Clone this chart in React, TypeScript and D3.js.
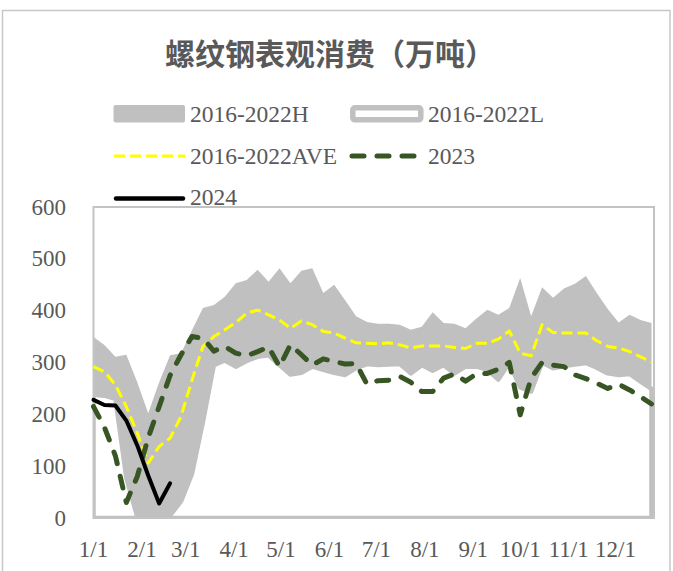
import React from "react";
import * as d3 from "d3";

const monthLabels = ["1/1", "2/1", "3/1", "4/1", "5/1", "6/1", "7/1", "8/1", "9/1", "10/1", "11/1", "12/1"];
const monthDays = [0, 31, 59, 90, 120, 151, 181, 212, 243, 273, 304, 334];
const yTicks = [0, 100, 200, 300, 400, 500, 600];

const seriesH = [349, 334, 311, 315, 262, 202, 262, 314, 318, 362, 405, 411, 427, 453, 459, 479, 456, 482, 453, 477, 482, 434, 450, 420, 389, 378, 375, 375, 373, 363, 369, 397, 376, 375, 366, 385, 402, 392, 405, 463, 389, 445, 425, 443, 452, 467, 434, 403, 377, 392, 382, 376];
const seriesL = [238, 236, 230, 78, 2, 0, 0, 5, 32, 85, 185, 295, 304, 292, 303, 311, 314, 295, 277, 280, 292, 286, 280, 276, 289, 297, 295, 296, 297, 279, 295, 284, 295, 279, 292, 292, 286, 267, 299, 252, 244, 300, 289, 293, 296, 299, 290, 279, 276, 278, 263, 249];
const seriesAve = [292, 282, 257, 215, 164, 106, 138, 154, 196, 266, 331, 350, 363, 377, 395, 401, 392, 382, 366, 380, 373, 360, 357, 347, 338, 337, 336, 338, 334, 328, 332, 332, 332, 329, 327, 337, 337, 345, 361, 318, 313, 373, 358, 357, 357, 357, 342, 331, 328, 321, 311, 301];
const series2023 = [215, 175, 120, 30, 80, 155, 215, 275, 315, 350, 347, 322, 331, 318, 313, 321, 330, 292, 334, 315, 295, 307, 302, 297, 298, 258, 265, 266, 273, 262, 244, 244, 270, 278, 264, 278, 279, 287, 300, 199, 270, 300, 295, 292, 276, 269, 260, 250, 258, 247, 234, 220];
const series2024 = [228, 218, 217, 188, 140, 82, 28, 67];

const legendNames = ["2016-2022H", "2016-2022L", "2016-2022AVE", "2023", "2024"];
const title = "螺纹钢表观消费（万吨）";

const W = 673;
const H = 571;
const plotL = 93.5;
const plotR = 654;
const plotT = 207;
const plotB = 518;

const serif = "'Times New Roman', 'Liberation Serif', 'DejaVu Serif', serif";
const textColor = "#595959";
const grayFill = "#C0C0C0";
const green = "#375623";

export default function App() {
  const x = d3.scaleLinear().domain([0, 357]).range([plotL, 651.5]);
  const y = d3.scaleLinear().domain([0, 600]).range([plotB, plotT]);
  const dayOf = (i: number) => i * 7;

  const areaGen = d3
    .area<number>()
    .x((_, i) => x(dayOf(i)))
    .y0(() => y(0))
    .y1((d) => y(d));
  const lineGen = d3
    .line<number>()
    .x((_, i) => x(dayOf(i)))
    .y((d) => y(d));

  return (
    <svg
      width={W}
      height={H}
      style={{ position: "absolute", left: 0, top: 0, background: "#fff" }}
      xmlns="http://www.w3.org/2000/svg"
    >
      <defs>
        <clipPath id="plotClip">
          <rect x={plotL} y={plotT} width={plotR - plotL} height={plotB - plotT} />
        </clipPath>
      </defs>
      <rect x={0} y={0} width={W} height={H} fill="#fff" />
      {/* outer chart border */}
      <rect x={2.5} y={10.5} width={667.5} height={620} fill="none" stroke="#C8C8C8" strokeWidth={1.5} />

      {/* title */}
      <text
        x={330}
        y={52}
        textAnchor="middle"
        dominantBaseline="central"
        fontFamily="'KaiTi', 'STKaiti', 'Noto Sans CJK SC', sans-serif"
        fontSize={30}
        fontWeight={700}
        fill={textColor}
      >
        {title}
      </text>

      {/* legend */}
      <g fontFamily={serif} fontSize={23.5} fill={textColor}>
        <rect x={113.5} y={105} width={71.5} height={17.5} rx={2} fill={grayFill} />
        <text x={190} y={122}>{legendNames[0]}</text>
        <rect x={352.8} y={107.8} width={68} height={12} rx={2} fill="#fff" stroke={grayFill} strokeWidth={5.5} />
        <text x={428} y={122}>{legendNames[1]}</text>
        <line x1={114} x2={185} y1={156} y2={156} stroke="#FFFF00" strokeWidth={3} strokeDasharray="11,5" />
        <text x={190} y={163.5}>{legendNames[2]}</text>
        <line x1={352} x2={416} y1={156} y2={156} stroke={green} strokeWidth={5} strokeDasharray="12,13" strokeLinecap="round" />
        <text x={428} y={163.5}>{legendNames[3]}</text>
        <line x1={116} x2={183} y1={198.5} y2={198.5} stroke="#000" strokeWidth={4.5} strokeLinecap="round" />
        <text x={190} y={205}>{legendNames[4]}</text>
      </g>

      {/* areas */}
      <g clipPath="url(#plotClip)">
        <path d={areaGen(seriesH) || ""} fill={grayFill} />
        <path d={areaGen(seriesL) || ""} fill="#fff" stroke={grayFill} strokeWidth={4.5} strokeLinejoin="round" />
      </g>

      {/* plot frame */}
      <rect x={plotL} y={plotT} width={plotR - plotL} height={plotB - plotT} fill="none" stroke="#C3C3C3" strokeWidth={2} />

      {/* lines */}
      <path d={lineGen(seriesAve) || ""} fill="none" stroke="#FFFF00" strokeWidth={3} strokeDasharray="11,5" strokeLinejoin="round" />
      <path d={lineGen(series2023) || ""} fill="none" stroke={green} strokeWidth={5} strokeDasharray="12,13" strokeLinecap="round" strokeLinejoin="round" />
      <path d={lineGen(series2024) || ""} fill="none" stroke="#000" strokeWidth={4} strokeLinecap="round" strokeLinejoin="round" />

      {/* y axis labels */}
      <g fontFamily={serif} fontSize={23} fill={textColor} textAnchor="end">
        {yTicks.map((t) => (
          <text key={t} x={66} y={y(t)} dominantBaseline="central">
            {t}
          </text>
        ))}
      </g>

      {/* x axis labels */}
      <g fontFamily={serif} fontSize={23} fill={textColor} textAnchor="middle">
        {monthLabels.map((m, i) => (
          <text key={m} x={x(monthDays[i])} y={557}>
            {m}
          </text>
        ))}
      </g>
    </svg>
  );
}
